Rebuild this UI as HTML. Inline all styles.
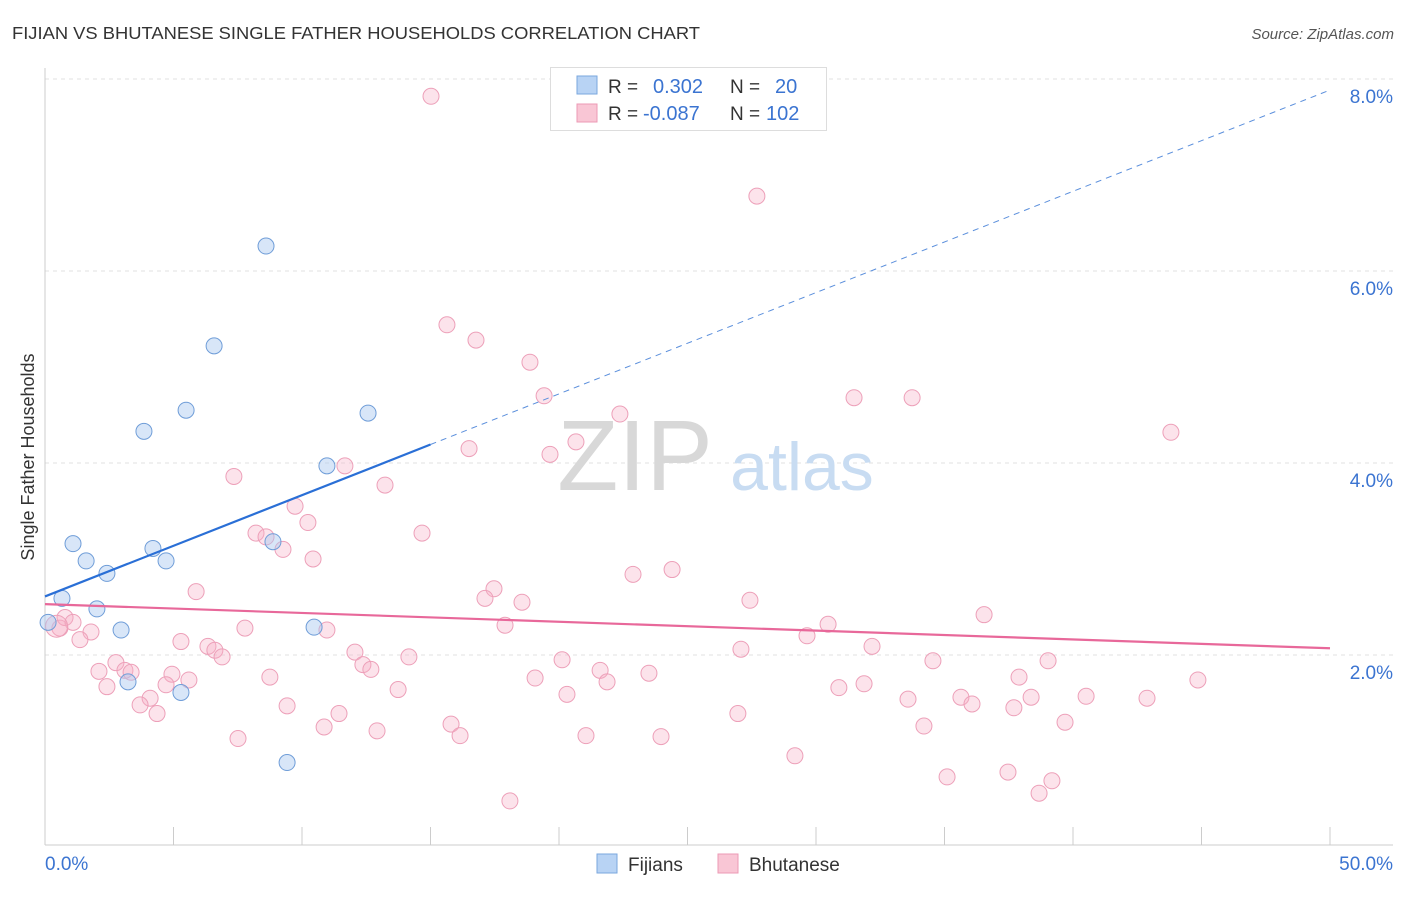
<!DOCTYPE html>
<html><head><meta charset="utf-8">
<style>
body{margin:0;background:#fff;font-family:"Liberation Sans",sans-serif;}
svg text{font-family:"Liberation Sans",sans-serif;}
</style></head>
<body>
<svg id="chart" width="1406" height="892" viewBox="0 0 1406 892" xmlns="http://www.w3.org/2000/svg">
<text x="12" y="39" font-size="17.5" fill="#333" textLength="688" lengthAdjust="spacingAndGlyphs">FIJIAN VS BHUTANESE SINGLE FATHER HOUSEHOLDS CORRELATION CHART</text>
<text x="1394" y="39" font-size="15" fill="#555" font-style="italic" text-anchor="end">Source: ZipAtlas.com</text>
<g id="grid"></g>
<g>
<text x="635" y="490" font-size="100" fill="#d8d8d8" font-family="Liberation Serif" text-anchor="middle">ZIP</text>
<text x="802" y="490" font-size="68" fill="#c8dcf2" text-anchor="middle">atlas</text>
</g>
<g id="axes"></g>
<g id="marks"></g>
<text transform="translate(34,457) rotate(-90)" font-size="18" fill="#333" text-anchor="middle">Single Father Households</text>
<g>
<rect x="550.5" y="67.5" width="276" height="63" fill="#fff" stroke="#ddd"/>
<rect x="577" y="76" width="20" height="18" fill="#b8d3f4" stroke="#7aa7de"/>
<rect x="577" y="104" width="20" height="18" fill="#f9c6d5" stroke="#ec9ab5"/>
<text x="608" y="93" font-size="19" fill="#333">R = </text><text x="653" y="93" font-size="20" fill="#3b74d1">0.302</text>
<text x="730" y="93" font-size="19" fill="#333">N = </text><text x="775" y="93" font-size="20" fill="#3b74d1">20</text>
<text x="608" y="120" font-size="19" fill="#333">R = </text><text x="643" y="120" font-size="20" fill="#3b74d1">-0.087</text>
<text x="730" y="120" font-size="19" fill="#333">N = </text><text x="766" y="120" font-size="20" fill="#3b74d1">102</text>
</g>
<g>
<rect x="597" y="854" width="20" height="19" fill="#b8d3f4" stroke="#7aa7de"/>
<text x="628" y="871" font-size="19" fill="#333">Fijians</text>
<rect x="718" y="854" width="20" height="19" fill="#f9c6d5" stroke="#ec9ab5"/>
<text x="749" y="871" font-size="19" fill="#333">Bhutanese</text>
</g>
</svg>
<script>
const xTicks=[0,5,10,15,20,25,30,35,40,45,50];
const yTicks=[2,4,6,8];
const fijX=[0.12,0.66,1.09,1.60,2.02,2.41,2.96,3.23,3.85,4.20,4.71,5.29,5.49,6.58,8.60,8.87,9.42,10.47,10.97,12.57];
const fijY=[2.34,2.59,3.16,2.98,2.48,2.85,2.26,1.72,4.33,3.11,2.98,1.61,4.55,5.22,6.26,3.18,0.88,2.29,3.97,4.52];
const bhuX=[15.02,27.70,15.64,16.77,18.87,19.42,22.37,31.48,33.74,43.81,20.66,16.50,19.65,11.67,7.35,13.23,9.73,10.23,14.67,8.21,8.60,9.26,10.43,22.88,24.40,17.47,17.12,18.56,27.43,36.54,5.88,17.90,30.47,29.65,32.18,27.08,10.97,1.79,0.58,0.78,1.09,1.36,7.78,5.29,6.34,6.61,6.89,12.06,14.16,20.12,34.55,39.03,2.76,2.10,3.11,3.35,4.94,12.37,12.68,21.60,23.50,8.75,5.60,19.07,21.87,37.90,44.86,2.41,4.71,13.74,20.31,31.87,30.89,35.64,38.37,40.51,42.88,33.58,4.09,3.70,9.42,36.07,37.70,4.36,11.44,26.96,10.86,15.80,39.69,34.20,12.92,16.15,21.05,23.97,7.51,29.18,35.10,37.47,39.18,38.68,18.09,0.45];
const bhuY=[7.82,6.78,5.44,5.28,5.05,4.70,4.51,4.68,4.68,4.32,4.22,4.15,4.09,3.97,3.86,3.77,3.55,3.38,3.27,3.27,3.23,3.10,3.00,2.84,2.89,2.69,2.59,2.55,2.57,2.42,2.66,2.31,2.32,2.20,2.09,2.06,2.26,2.24,2.28,2.39,2.34,2.16,2.28,2.14,2.09,2.05,1.98,2.03,1.98,1.95,1.94,1.94,1.92,1.83,1.84,1.82,1.80,1.90,1.85,1.84,1.81,1.77,1.74,1.76,1.72,1.77,1.74,1.67,1.69,1.64,1.59,1.70,1.66,1.56,1.56,1.57,1.55,1.54,1.55,1.48,1.47,1.49,1.45,1.39,1.39,1.39,1.25,1.28,1.30,1.26,1.21,1.16,1.16,1.15,1.13,0.95,0.73,0.78,0.69,0.56,0.48,2.30];
const fijTrend=[2.61,0.1055];
const bhuTrend=[2.53,-0.0092];
const X0=45,X1=1330,Y0=847,PPY=96;
const sx=v=>X0+(v/50)*(X1-X0);
const sy=v=>Y0-v*PPY;
const NS="http://www.w3.org/2000/svg";
function mk(parent,tag,attrs){const e=document.createElementNS(NS,tag);for(const k in attrs)e.setAttribute(k,attrs[k]);document.getElementById(parent).appendChild(e);return e;}
yTicks.forEach(t=>{
 const l=mk('grid','line',{x1:45,x2:1393,y1:sy(t),y2:sy(t),stroke:'#e2e2e2','stroke-dasharray':'4,4'});
 
 
 const tx=mk('axes','text',{x:1393,y:sy(t)+24,'font-size':19,fill:'#3b74d1','text-anchor':'end'});
 tx.textContent=t.toFixed(1)+'%';
 
 
});
mk('axes','line',{x1:45,x2:45,y1:68,y2:845,stroke:'#ccc'});
const xa=mk('axes','line',{x1:45,x2:1393,y1:845,y2:845,stroke:'#ccc'});


xTicks.forEach(t=>{
 const l=mk('axes','line',{x1:sx(t),x2:sx(t),y1:827,y2:845,stroke:'#ccc'});
 
 
});
[[0,'0.0%','start',45],[50,'50.0%','end',1393]].forEach(d=>{
 const tx=mk('axes','text',{x:d[3],y:870,'font-size':19,fill:'#3b74d1','text-anchor':d[2]});
 tx.textContent=d[1];
 
 
});
bhuX.forEach((x,i)=>{
 const c=mk('marks','circle',{cx:sx(x),cy:sy(bhuY[i]),r:i===bhuX.length-1?11:8,fill:'rgba(246,176,198,0.35)',stroke:'#eda0b9','stroke-width':1});
 
 
});
fijX.forEach((x,i)=>{
 const c=mk('marks','circle',{cx:sx(x),cy:sy(fijY[i]),r:8,fill:'rgba(168,199,240,0.45)',stroke:'#6f9dd8','stroke-width':1});
 
 
});
const bl=mk('marks','line',{x1:sx(0),y1:sy(bhuTrend[0]),x2:sx(50),y2:sy(bhuTrend[0]+bhuTrend[1]*50),stroke:'#e8689a','stroke-width':2.2});


const fl=mk('marks','line',{x1:sx(0),y1:sy(fijTrend[0]),x2:sx(15),y2:sy(fijTrend[0]+fijTrend[1]*15),stroke:'#2a6fd6','stroke-width':2.2});


const fd=mk('marks','line',{x1:sx(15),y1:sy(fijTrend[0]+fijTrend[1]*15),x2:sx(50),y2:sy(fijTrend[0]+fijTrend[1]*50),stroke:'#5b8fdc','stroke-width':1,'stroke-dasharray':'6,5'});


</script>
</body></html>
